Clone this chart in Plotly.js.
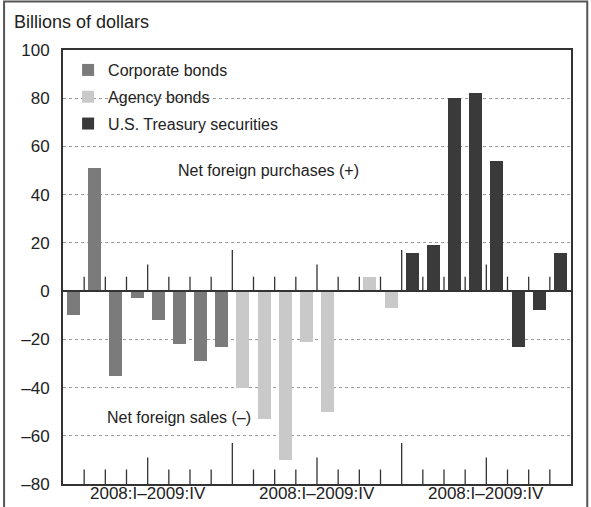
<!DOCTYPE html>
<html><head><meta charset="utf-8">
<script src="https://cdn.plot.ly/plotly-3.0.1.min.js"></script>
<style>html,body{margin:0;padding:0;background:#fff}#chart{width:591px;height:507px}</style>
</head><body><div id="chart"></div>
<script>
const quarters = ['2008:I','2008:II','2008:III','2008:IV','2009:I','2009:II','2009:III','2009:IV'];
const groupLabel = '2008:I\u20132009:IV';
const seriesNames = ['Corporate bonds','Agency bonds','U.S. Treasury securities'];
const corporate = [-10, 51, -35, -3, -12, -22, -29, -23];
const agency = [-40, -53, -70, -21, -50, 0, 6, -7];
const treasury = [16, 19, 80, 82, 54, -23, -8, 16];
const colors = ['#7b7b7b','#c9c9c9','#3a3a3a'];
const yTicks = [-80,-60,-40,-20,0,20,40,60,80,100];

const all = [corporate, agency, treasury];
const n = quarters.length;
const traces = all.map((vals, g) => ({
  type: 'bar',
  name: seriesNames[g],
  legendgroup: 'g' + g,
  x: vals.map((v, i) => g * n + i),
  y: vals,
  width: 0.62,
  marker: {color: colors[g], line: {width: 0}},
  customdata: quarters,
  textposition: 'none',
  hovertemplate: '%{customdata}: %{y}<extra>' + seriesNames[g] + '</extra>'
}));

const shapes = [];
const total = n * all.length;
for (let i = 1; i < total; i++) {
  const isGroup = i % n === 0;
  const isYear = i % 4 === 0;
  const topH = isGroup ? 17 : (isYear ? 11 : 6);
  const botH = isGroup ? 17 : (isYear ? 11 : 6);
  shapes.push({type:'line', xref:'x', yref:'y', x0:i-0.5, x1:i-0.5, y0:0, y1:topH, line:{color:'#333', width:1.3}});
  shapes.push({type:'line', xref:'x', yref:'y', x0:i-0.5, x1:i-0.5, y0:-80, y1:-80+botH, line:{color:'#333', width:1.3}});
}
shapes.push({type:'line', xref:'paper', yref:'y', x0:0, x1:1, y0:0, y1:0, line:{color:'#333', width:2}});
// outer frame
shapes.push({type:'rect', xref:'paper', yref:'paper', x0:-0.116, x1:1.032, y0:-0.2, y1:1.112, line:{color:'#555', width:2}});

const annotations = [
  {xref:'paper', yref:'paper', x:-0.1, y:1.064, xanchor:'left', yanchor:'middle', text:'Billions of dollars', showarrow:false, font:{size:18, color:'#222'}},
  {xref:'x', yref:'y', x:9.2, y:50, text:'Net foreign purchases (+)', showarrow:false, font:{size:16, color:'#222'}},
  {xref:'x', yref:'y', x:5.0, y:-52.5, text:'Net foreign sales (\u2013)', showarrow:false, font:{size:16, color:'#222'}}
];
for (let g = 0; g < all.length; g++) {
  annotations.push({xref:'x', yref:'paper', x:g*n + (n-1)/2, y:-0.049, yanchor:'bottom', text:groupLabel, showarrow:false, font:{size:17, color:'#222'}});
}

const layout = {
  width: 591, height: 507,
  margin: {l:63, r:20, t:50, b:23},
  paper_bgcolor:'#fff', plot_bgcolor:'#fff',
  font: {family:'"Liberation Sans", Arial, sans-serif', color:'#222'},
  showlegend: true,
  legend: {x:0.01, y:0.993, xanchor:'left', yanchor:'top', bgcolor:'rgba(0,0,0,0)', font:{size:16, color:'#222'}, traceorder:'grouped', tracegroupgap:3, itemwidth:30},
  bargap: 0,
  xaxis: {range:[-0.5, total-0.5], showticklabels:false, ticks:'', showgrid:false, zeroline:false, showline:true, mirror:true, linecolor:'#333', linewidth:2, fixedrange:true},
  yaxis: {range:[-80,100], tickvals:yTicks, ticktext:yTicks.map(v => v < 0 ? '\u2013' + Math.abs(v) : String(v)), tickfont:{size:17, color:'#222'}, ticks:'', ticklabelstandoff:8, showgrid:true, gridcolor:'#9a9a9a', griddash:'dot', gridwidth:1, zeroline:false, showline:true, mirror:true, linecolor:'#333', linewidth:2, fixedrange:true},
  shapes: shapes,
  annotations: annotations
};
Plotly.newPlot('chart', traces, layout, {displayModeBar:false, staticPlot:true});
</script></body></html>
